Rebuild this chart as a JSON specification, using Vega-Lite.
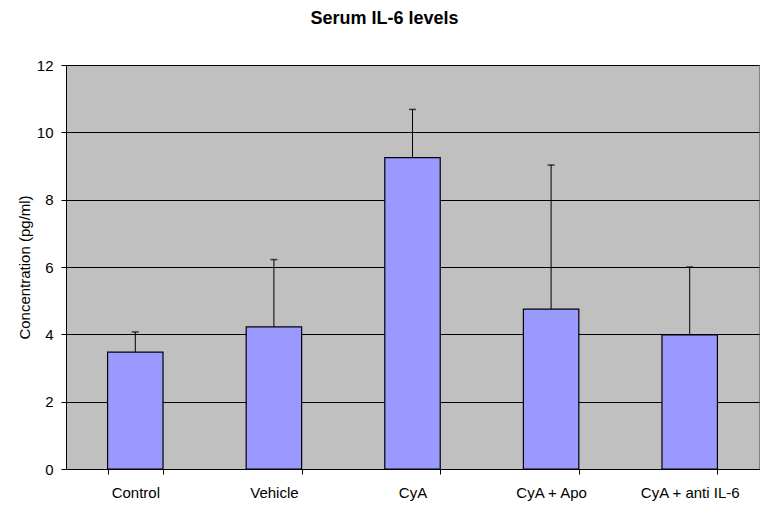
{
  "$schema": "https://vega.github.io/schema/vega-lite/v6.json",
  "width": 693,
  "height": 404,
  "autosize": {"type": "none"},
  "padding": {"left": 66, "top": 65, "right": 15, "bottom": 43},
  "background": "white",
  "title": {
    "text": "Serum IL-6 levels",
    "font": "Liberation Sans",
    "fontSize": 18,
    "fontWeight": "bold",
    "color": "black",
    "anchor": "middle",
    "offset": 30,
    "dx": -28
  },
  "config": {
    "view": {"fill": "#C0C0C0", "stroke": "#808080", "strokeWidth": 1},
    "axis": {"labelFont": "Liberation Sans", "titleFont": "Liberation Sans", "labelColor": "black", "titleColor": "black"}
  },
  "data": {
    "values": [
      {"group": "Control", "mean": 3.47, "upper": 4.07},
      {"group": "Vehicle", "mean": 4.22, "upper": 6.22},
      {"group": "CyA", "mean": 9.25, "upper": 10.68},
      {"group": "CyA + Apo", "mean": 4.75, "upper": 9.03},
      {"group": "CyA + anti IL-6", "mean": 3.98, "upper": 6.0}
    ]
  },
  "encoding": {
    "x": {
      "field": "group",
      "type": "nominal",
      "sort": null,
      "scale": {"paddingInner": 0.6, "paddingOuter": 0.3},
      "axis": {
        "title": null,
        "labelAngle": 0,
        "labelFontSize": 15,
        "labelPadding": 11,
        "tickBand": "extent",
        "tickColor": "black",
        "tickSize": 5,
        "domainColor": "black",
        "grid": false
      }
    }
  },
  "layer": [
    {
      "mark": {"type": "rule", "color": "black", "strokeWidth": 1},
      "encoding": {
        "y": {"field": "mean", "type": "quantitative"},
        "y2": {"field": "upper"}
      }
    },
    {
      "mark": {"type": "tick", "color": "black", "size": 7, "thickness": 1.5},
      "encoding": {
        "y": {"field": "upper", "type": "quantitative"}
      }
    },
    {
      "mark": {"type": "bar", "fill": "#9999FF", "stroke": "black", "strokeWidth": 1.2},
      "encoding": {
        "y": {
          "field": "mean",
          "type": "quantitative",
          "scale": {"domain": [0, 12], "nice": false},
          "axis": {
            "title": "Concentration (pg/ml)",
            "titleFontSize": 15,
            "titleFontWeight": "normal",
            "titlePadding": 4,
            "values": [0, 2, 4, 6, 8, 10, 12],
            "labelFontSize": 15,
            "labelPadding": 8,
            "tickColor": "black",
            "tickSize": 5,
            "domainColor": "black",
            "grid": true,
            "gridColor": "black",
            "gridWidth": 1
          }
        }
      }
    }
  ]
}
